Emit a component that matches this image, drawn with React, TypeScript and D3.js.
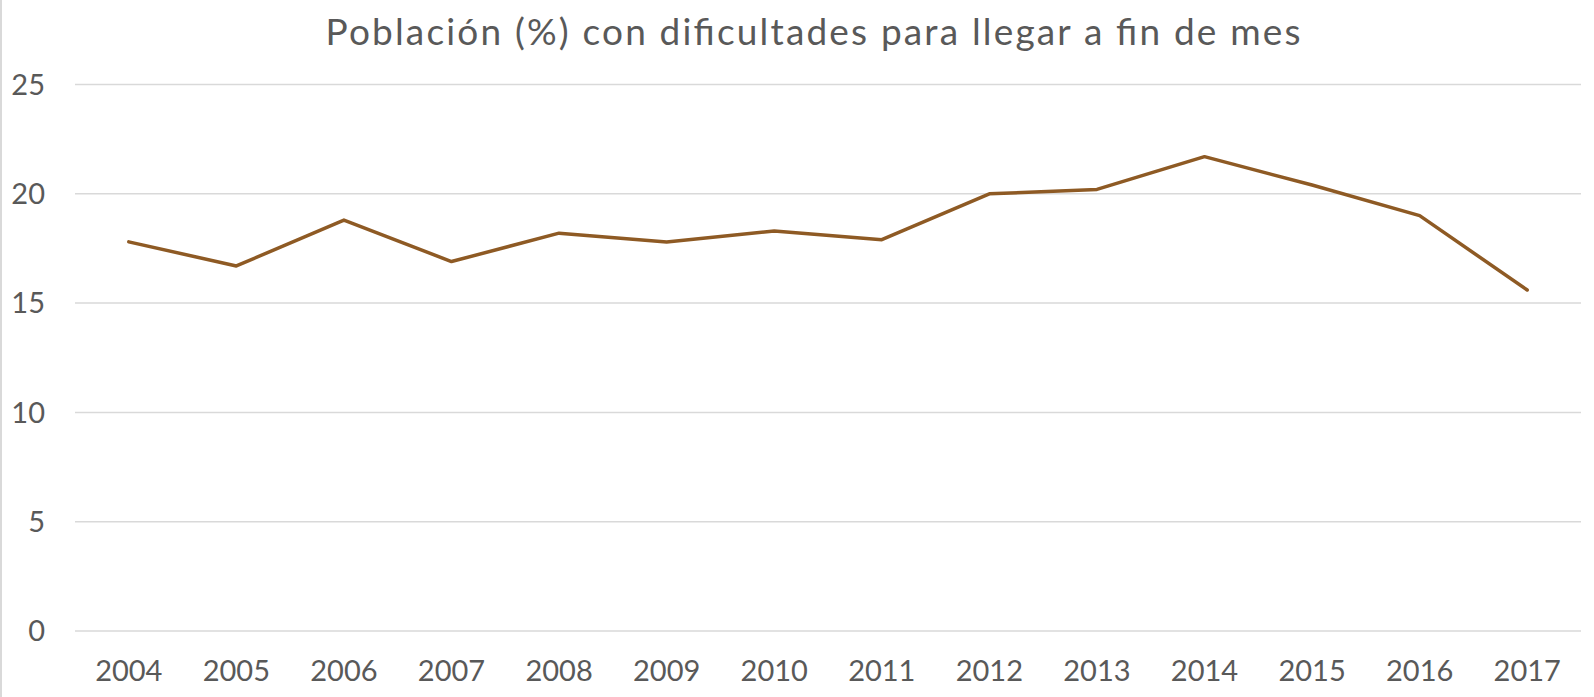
import React from "react";
import * as d3 from "d3";

const years = ["2004","2005","2006","2007","2008","2009","2010","2011","2012","2013","2014","2015","2016","2017"];
const values = [17.8, 16.7, 18.8, 16.9, 18.2, 17.8, 18.3, 17.9, 20.0, 20.2, 21.7, 20.4, 19.0, 15.6];
const yTicks = [0, 5, 10, 15, 20, 25];
const title = "Población (%) con dificultades para llegar a fin de mes";

const W = 1594, H = 697;
const left = 75, right = 1581, top = 84.5, bottom = 631;
const font = "Lato, 'Open Sans', sans-serif";
const textColor = "#595959";

export default function App() {
  const x = d3.scaleBand<string>().domain(years).range([left, right]);
  const y = d3.scaleLinear().domain([0, 25]).range([bottom, top]);
  const line = d3.line<number>()
    .x((_, i) => (x(years[i]) as number) + x.bandwidth() / 2)
    .y(d => y(d));
  return (
    <svg width={W} height={H} style={{ position: "absolute", left: 0, top: 0, background: "#fff" }}>
      <rect x={0} y={0} width={W} height={H} fill="#fff" />
      <line x1={1} x2={1} y1={0} y2={H} stroke="#d9d9d9" strokeWidth={2} />
      <text x={813} y={45} textAnchor="middle" fontFamily={font} fontSize={37} fill={textColor} textLength={975} lengthAdjust="spacing">{title}</text>
      {yTicks.map(t => (
        <g key={t}>
          <line x1={left} x2={right} y1={y(t)} y2={y(t)} stroke="#d9d9d9" strokeWidth={1.5} />
          <text x={45} y={y(t)} dy="0.35em" textAnchor="end" fontFamily={font} fontSize={29} fill={textColor}>{t}</text>
        </g>
      ))}
      {years.map(yr => (
        <text key={yr} x={(x(yr) as number) + x.bandwidth() / 2} y={671} dy="0.35em" textAnchor="middle" fontFamily={font} fontSize={29} fill={textColor}>{yr}</text>
      ))}
      <path d={line(values) || ""} fill="none" stroke="#8E5A24" strokeWidth={3.5} strokeLinejoin="round" strokeLinecap="round" />
    </svg>
  );
}
